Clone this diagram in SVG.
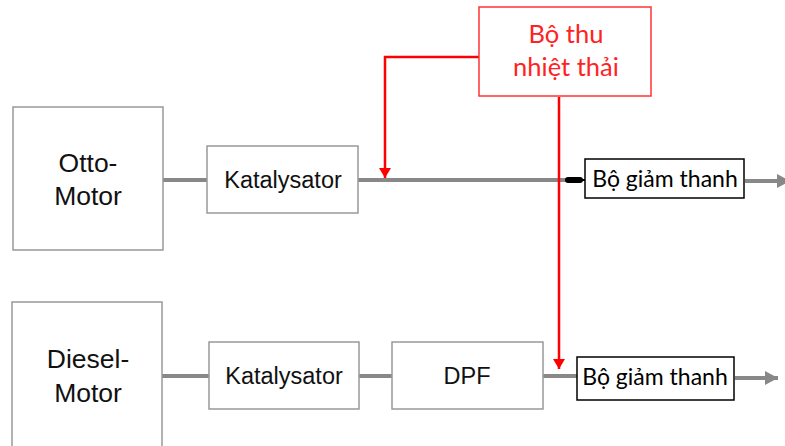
<svg xmlns="http://www.w3.org/2000/svg" width="785" height="446" viewBox="0 0 785 446">
<defs>
<style>
.box{fill:#fff;stroke:#999;stroke-width:1.5}
.mbox{fill:#fff;stroke:#000;stroke-width:1.5}
.rbox{fill:#fff;stroke:#f33;stroke-width:1.5}
.pipe{stroke:#888;stroke-width:4;fill:none}
.heat{stroke:#f00;stroke-width:2.5;fill:none}
.ar{font-family:"Liberation Sans",Arial,sans-serif;fill:#111;text-anchor:middle}
.cal{font-family:Lato,"Noto Sans",sans-serif;text-anchor:middle}
</style>
<marker id="ah-red" markerWidth="12" markerHeight="12" refX="10" refY="6" orient="auto" markerUnits="userSpaceOnUse">
<path d="M0,0 L10,6 L0,12 Z" fill="#f00"/>
</marker>
<marker id="ah-gray" markerWidth="14" markerHeight="14" refX="13" refY="7" orient="auto" markerUnits="userSpaceOnUse">
<path d="M0,0 L13,7 L0,14 Z" fill="#888"/>
</marker>
</defs>
<rect width="785" height="446" fill="#fff"/>

<g id="connectors">
<line class="pipe" x1="163" y1="180" x2="207" y2="180"/>
<line class="pipe" x1="358" y1="180" x2="566" y2="180"/>
<line x1="568" y1="180" x2="580" y2="180" stroke="#000" stroke-width="6" stroke-linecap="round"/>
<line x1="580" y1="180" x2="585" y2="180" stroke="#000" stroke-width="2"/>
<line class="pipe" x1="745" y1="181" x2="790" y2="181" marker-end="url(#ah-gray)"/>
<line class="pipe" x1="162" y1="376" x2="209" y2="376"/>
<line class="pipe" x1="359" y1="376" x2="392" y2="376"/>
<line class="pipe" x1="543" y1="376" x2="577" y2="376"/>
<line class="pipe" x1="735" y1="378" x2="778" y2="378" marker-end="url(#ah-gray)"/>
<polyline class="heat" points="479,57 385,57 385,178" marker-end="url(#ah-red)"/>
<line class="heat" x1="559" y1="97" x2="559" y2="369" marker-end="url(#ah-red)"/>
</g>

<g id="otto-motor">
<rect class="box" x="13" y="107" width="150" height="143"/>
<text class="ar" x="88" y="172" font-size="26.5">Otto-</text>
<text class="ar" x="88" y="205" font-size="26.5">Motor</text>
</g>
<g id="otto-katalysator">
<rect class="box" x="207" y="146" width="151" height="67"/>
<text class="ar" x="283" y="188" font-size="23.5">Katalysator</text>
</g>
<g id="otto-schalldaempfer">
<rect class="mbox" x="585" y="159" width="159" height="39"/>
<text class="cal" x="665" y="187" font-size="23" fill="#000">Bộ giảm thanh</text>
</g>

<g id="waermetauscher">
<rect class="rbox" x="479" y="7" width="172" height="89"/>
<text class="cal" x="566" y="43" font-size="25.5" fill="#f22">Bộ thu</text>
<text class="cal" x="566" y="76" font-size="25.5" fill="#f22">nhiệt thải</text>
</g>

<g id="diesel-motor">
<rect class="box" x="12" y="302" width="150" height="150"/>
<text class="ar" x="88" y="368" font-size="26.5">Diesel-</text>
<text class="ar" x="88" y="402" font-size="26.5">Motor</text>
</g>
<g id="diesel-katalysator">
<rect class="box" x="209" y="342" width="150" height="67"/>
<text class="ar" x="284" y="384" font-size="23.5">Katalysator</text>
</g>
<g id="dpf">
<rect class="box" x="392" y="342" width="151" height="67"/>
<text class="ar" x="467" y="384" font-size="23.5">DPF</text>
</g>
<g id="diesel-schalldaempfer">
<rect class="mbox" x="577" y="357" width="157" height="43"/>
<text class="cal" x="655" y="385" font-size="23" fill="#000">Bộ giảm thanh</text>
</g>
</svg>
